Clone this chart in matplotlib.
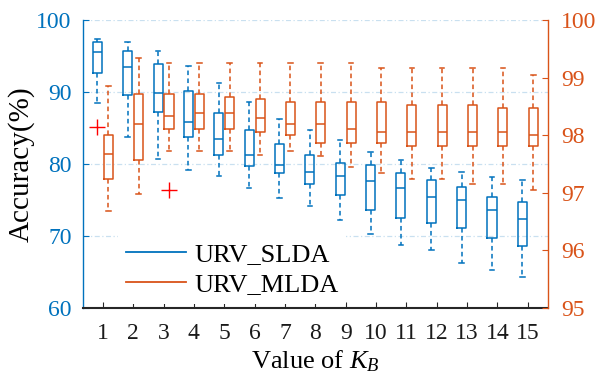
import matplotlib
matplotlib.use('Agg')
import matplotlib.pyplot as plt
from matplotlib.lines import Line2D

# font settings (Times-like)
plt.rcParams['font.family'] = ['Liberation Serif', 'DejaVu Serif']
plt.rcParams['mathtext.fontset'] = 'custom'
plt.rcParams['mathtext.rm'] = 'Liberation Serif'
plt.rcParams['mathtext.it'] = 'Liberation Serif:italic'

# values
k_values = list(range(1, 16))

# URV_SLDA (left axis, %)
sl_whislo = [88.4, 83.75, 80.75, 79.2, 78.3, 76.7, 75.2, 74.2, 72.2, 70.3, 68.7, 68.05, 66.3, 65.2, 64.3]
sl_q1 = [92.7, 89.6, 87.2, 83.8, 81.3, 79.7, 78.7, 77.2, 75.7, 73.55, 72.5, 71.85, 71.1, 69.7, 68.6]
sl_med = [95.6, 93.4, 89.9, 85.8, 83.5, 81.3, 79.9, 78.9, 78.3, 77.6, 76.6, 75.4, 75.0, 73.55, 72.4]
sl_q3 = [96.9, 95.75, 93.85, 90.2, 87.1, 84.7, 82.8, 81.3, 80.15, 79.8, 78.7, 77.8, 76.8, 75.4, 74.75]
sl_whishi = [97.4, 96.95, 95.7, 93.6, 91.2, 88.55, 86.25, 84.7, 83.3, 81.6, 80.5, 79.4, 78.9, 78.2, 77.7]
sl_fliers = {1: [85.1]}

# URV_MLDA (right axis, %)
ml_whislo = [96.68, 96.97, 97.73, 97.73, 97.72, 97.65, 97.72, 97.63, 97.44, 97.34, 97.24, 97.24, 97.15, 97.15, 97.04]
ml_q1 = [97.24, 97.57, 98.1, 98.1, 98.1, 98.05, 98.0, 97.86, 97.86, 97.86, 97.82, 97.82, 97.82, 97.82, 97.82]
ml_med = [97.67, 98.2, 98.34, 98.38, 98.39, 98.3, 98.2, 98.2, 98.1, 98.05, 98.05, 98.05, 98.05, 98.05, 98.0]
ml_q3 = [98.0, 98.72, 98.72, 98.72, 98.67, 98.63, 98.58, 98.58, 98.58, 98.58, 98.53, 98.53, 98.53, 98.48, 98.48]
ml_whishi = [98.86, 99.34, 99.25, 99.25, 99.25, 99.25, 99.25, 99.25, 99.25, 99.16, 99.16, 99.16, 99.16, 99.16, 99.05]
ml_fliers = {3: [97.04]}

blue = '#0072BD'
orange = '#D95319'
axis_dark = '#262626'


def make_stats(lo, q1, med, q3, hi, fliers):
    stats = []
    for i, k in enumerate(k_values):
        stats.append({'whislo': lo[i], 'q1': q1[i], 'med': med[i], 'q3': q3[i],
                      'whishi': hi[i], 'fliers': fliers.get(k, [])})
    return stats


def draw_boxes(ax, stats, positions, color):
    ax.bxp(stats, positions=positions, widths=0.3, capwidths=0.15,
           manage_ticks=False,
           boxprops=dict(color=color, linewidth=1.1),
           medianprops=dict(color=color, linewidth=1.1),
           whiskerprops=dict(color=color, linewidth=1.1, linestyle=(0, (3, 2.2))),
           capprops=dict(color=color, linewidth=1.1),
           flierprops=dict(marker='+', markeredgecolor='red', markersize=12,
                           markeredgewidth=1.0, linestyle='none'))


fig, ax = plt.subplots(figsize=(6, 3.81), dpi=100)
fig.subplots_adjust(left=0.138, right=0.913, bottom=0.192, top=0.9475)
ax2 = ax.twinx()

pos_sl = [k - 0.18 for k in k_values]
pos_ml = [k + 0.18 for k in k_values]
draw_boxes(ax, make_stats(sl_whislo, sl_q1, sl_med, sl_q3, sl_whishi, sl_fliers), pos_sl, blue)
draw_boxes(ax2, make_stats(ml_whislo, ml_q1, ml_med, ml_q3, ml_whishi, ml_fliers), pos_ml, orange)

# axes ranges
ax.set_xlim(0.34, 15.66)
ax.set_ylim(60, 100)
ax2.set_ylim(95, 100)
ax.set_xticks(k_values)
ax.set_yticks([60, 70, 80, 90, 100])
ax2.set_yticks([95, 96, 97, 98, 99, 100])

# grid from the left axis
ax.yaxis.grid(True, color='#c9e0f0', linestyle=(0, (4, 2, 1, 2)), linewidth=0.9)
ax.set_axisbelow(True)

# spines
for a in (ax, ax2):
    a.spines['top'].set_visible(False)
ax.spines['left'].set_color(blue)
ax2.spines['left'].set_visible(False)
ax2.spines['right'].set_color(orange)
ax.spines['right'].set_visible(False)
ax2.spines['bottom'].set_visible(False)
ax.spines['bottom'].set_color(axis_dark)
ax.spines['bottom'].set_linewidth(1.5)
ax.spines['left'].set_linewidth(1.0)
ax2.spines['right'].set_linewidth(1.0)

ax.tick_params(axis='y', direction='in', colors=blue, labelsize=17, length=4, pad=8)
ax2.tick_params(axis='y', direction='in', colors=orange, labelsize=17, length=4, pad=9.5)
ax.tick_params(axis='x', direction='in', colors=axis_dark, labelcolor='#1a1a1a',
               labelsize=17, length=4, pad=11)

ax.set_ylabel('Accuracy(%)', fontsize=21, labelpad=1)
ax.set_xlabel('Value of $K_B$', fontsize=19, labelpad=3)

# legend on the top axis so it hides the grid underneath
handles = [Line2D([], [], color=blue, linewidth=1.3),
           Line2D([], [], color=orange, linewidth=1.3)]
leg = ax2.legend(handles, ['URV_SLDA', 'URV_MLDA'], loc='upper left',
                 bbox_to_anchor=(0.075, 0.255), borderaxespad=0.0,
                 fontsize=19, frameon=True, framealpha=1, edgecolor='none',
                 facecolor='white', fancybox=False, handlelength=2.3,
                 handletextpad=0.3, labelspacing=0.25, borderpad=0.3)

plt.savefig('out.png', dpi=100)
